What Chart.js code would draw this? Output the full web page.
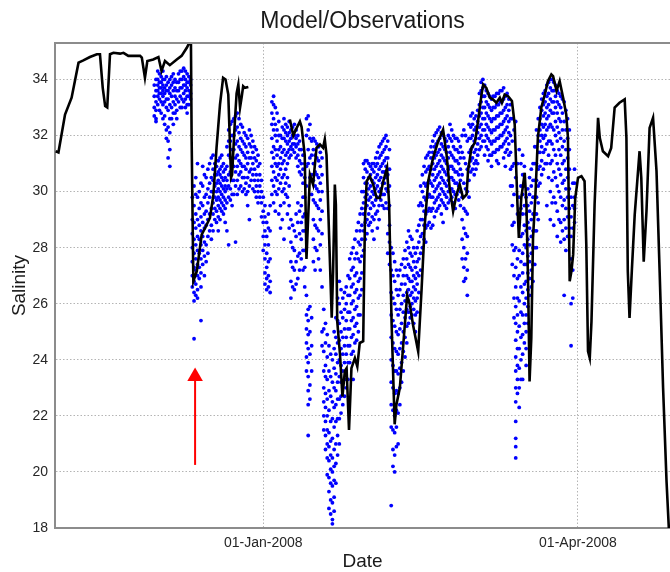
<!DOCTYPE html>
<html>
<head>
<meta charset="utf-8">
<title>Model/Observations</title>
<script src="https://cdn.jsdelivr.net/npm/chart.js@4.4.1/dist/chart.umd.min.js"></script>
<style>
  html, body { margin: 0; padding: 0; background: #fff; }
  #chart { display: block; }
</style>
</head>
<body>
<canvas id="chart" width="670" height="572"></canvas>
<script>
// x values are days counted from 01-Jan-2008
const modelDays = [
  -60.0, -59.2, -57.3, -55.4, -53.4, -52.0, -50.1, -48.1, -47.2, -46.4, -45.7, -45.1, -44.3, -43.3,
  -41.4, -40.4, -39.0, -35.6, -35.1, -34.2, -33.5, -31.8, -30.3, -29.4, -28.4, -27.0, -25.0, -23.6,
  -22.1, -21.2, -20.9, -20.7, -20.2, -19.2, -17.8, -16.8, -15.4, -14.4, -13.5, -12.5, -11.6, -10.9,
  -10.1, -9.3, -9.0, -8.2, -7.7, -7.2, -6.7, -6.2, -5.8, -5.3, -4.3,
  1.7,
  7.7, 8.7, 9.4, 10.6, 11.1, 12.0, 12.5, 13.5, 14.4, 15.4, 16.4, 17.3, 17.8, 18.3, 19.8, 20.2, 20.7,
  21.0, 21.4, 22.2, 22.9, 23.6, 24.1, 24.8, 25.5, 26.5, 27.2, 27.9, 28.9, 29.4, 29.9, 30.8, 31.8, 32.8,
  33.7, 34.7, 35.8, 36.4, 37.1, 38.0, 38.5, 39.5, 40.4, 41.6, 42.4, 43.3, 44.8, 45.8, 46.7, 47.7, 49.1,
  50.6, 52.0, 53.0, 53.9, 54.9, 55.9, 56.8, 57.8, 58.8, 59.2, 60.2, 61.2, 62.1, 63.1, 63.6, 64.5, 65.5,
  66.4, 67.4, 68.4, 69.0, 69.8, 70.8, 71.9, 72.7, 73.5, 73.9, 74.6, 75.6, 76.1, 76.6, 77.0, 77.5, 78.0,
  78.7, 79.4, 80.4, 81.4, 82.3, 83.3, 83.8, 84.8, 85.7, 86.7, 87.6, 88.1, 88.6, 89.1, 89.6, 90.2, 91.0,
  92.0, 92.9, 93.4, 93.9, 94.4, 94.9, 95.8, 96.8, 97.3, 98.2, 99.7, 100.6, 101.6, 103.0, 104.5, 105.0,
  105.4, 105.9, 106.6, 107.4, 108.8, 109.3, 110.0, 110.8, 111.7, 112.7, 113.7, 114.6, 115.6, 116.6,
  117.3, 117.8,
];
const modelSalinity = [
  31.44, 31.4, 32.75, 33.35, 34.6, 34.68, 34.8, 34.9, 34.9, 33.7, 33.05, 33.0, 34.9, 34.95,
  34.92, 34.95, 34.84, 34.84, 34.78, 34.06, 34.66, 34.71, 34.8, 34.3, 34.66, 34.51, 34.71, 34.84,
  35.13, 35.35, 35.35, 31.9, 26.8, 27.16, 28.46, 28.7, 29.06, 29.9, 31.56, 33.1, 34.06, 34.0,
  33.46, 30.5, 30.6, 32.5, 33.5, 33.82, 33.0, 33.4, 33.76, 33.7, 33.73,
  null,
  32.57, 32.0, 32.2, 32.5, 32.3, 31.3, 27.6, 30.6, 30.25, 31.56, 31.68, 31.56, 31.86, 31.3, 25.5, 27.16, 30.25,
  29.54, 25.37, 24.18, 22.69, 23.6, 23.7, 21.5, 23.7, 24.06, 23.76, 24.6, 24.66, 28.94, 30.37, 30.55, 30.25, 29.77,
  29.77, 30.37, 30.85, 29.54, 25.37, 21.7, 22.4, 23.0, 24.4, 26.3, 25.96, 25.25, 24.3, 26.56, 28.82, 30.37, 31.2,
  31.8, 32.21, 31.32, 30.13, 29.3, 29.9, 30.25, 29.77, 29.9, 30.73, 31.56, 31.74, 32.51, 33.46, 33.82, 33.7, 33.35,
  33.29, 33.17, 33.35, 33.17, 33.46, 33.4, 33.23, 32.4, 29.54, 28.35, 29.77, 30.67, 29.54, 26.56, 23.23, 24.77, 28.35,
  29.9, 31.92, 33.0, 33.46, 33.94, 34.18, 34.12, 33.59, 33.94, 33.35, 32.75, 31.92, 26.8, 27.16, 27.75, 29.77, 30.49,
  30.55, 30.37, 28.11, 24.3, 24.06, 25.37, 29.54, 32.63, 31.92, 31.44, 31.26, 31.56, 33.0, 33.17, 33.29, 31.92,
  27.16, 25.49, 27.27, 29.18, 31.44, 30.49, 27.5, 29.3, 32.27, 32.63, 30.73, 27.16, 23.0, 19.66,
  17.9, 17.4,
];

// observations, one column per day ...
const obsDays = [
  -31, -30, -29, -28, -27, -26, -25, -24, -23, -22, -21, -20, -19, -18, -17, -16, -15, -14, -13, -12,
  -11, -10, -9, -8, -7, -6, -5, -4, -3, -2, -1, 0, 1, 2, 3, 4, 5, 6, 7, 8, 9, 10, 11, 12, 13, 14, 15,
  16, 17, 18, 19, 20, 21, 22, 23, 24, 25, 26, 27, 28, 29, 30, 31, 32, 33, 34, 35, 36, 37, 38, 39, 40,
  41, 42, 43, 44, 45, 46, 47, 48, 49, 50, 51, 52, 53, 54, 55, 56, 57, 58, 59, 60, 61, 62, 63, 64, 65,
  66, 67, 68, 69, 70, 71, 72, 73, 74, 75, 76, 77, 78, 79, 80, 81, 82, 83, 84, 85, 86, 87, 88, 89, 90,
];
const obsSalinity = [
  [34.0, 33.6, 33.2, 32.9, 32.6, 32.5],
  [34.2, 33.9, 33.7, 33.5, 33.3, 32.9],
  [34.3, 34.0, 33.8, 33.6, 33.4, 33.1, 32.6],
  [34.1, 33.8, 33.6, 33.3, 33.0, 32.2, 31.9],
  [34.0, 33.7, 33.5, 33.1, 32.6, 32.1, 31.5, 30.9],
  [34.2, 33.9, 33.6, 33.2, 32.8, 32.4],
  [33.9, 33.6, 33.3, 32.9, 32.6],
  [34.3, 34.0, 33.7, 33.4, 33.0],
  [34.4, 34.1, 33.8, 33.5, 33.2],
  [34.2, 33.9, 33.7, 33.4, 33.1, 32.8],
  [34.0, 33.8, 33.5, 33.3],
  [30.2, 29.5, 28.9, 28.3, 27.8, 27.3, 26.8, 26.4, 26.1, 24.75],
  [31.0, 29.8, 29.0, 28.4, 27.9, 27.4, 27.0, 26.5, 26.2],
  [30.3, 29.6, 29.1, 28.6, 28.1, 27.6, 27.1, 26.6, 25.4],
  [30.6, 29.8, 29.2, 28.7, 28.2, 27.7, 27.0],
  [30.8, 30.1, 29.6, 29.0, 28.4, 27.8],
  [31.2, 30.5, 30.0, 29.4, 28.8, 28.3],
  [31.0, 30.6, 30.2, 29.8, 29.4, 29.0],
  [31.1, 30.7, 30.4, 30.1, 29.8, 29.5, 29.1, 28.6],
  [31.3, 30.9, 30.5, 30.2, 29.9, 29.6, 29.3],
  [30.8, 30.5, 30.2, 30.0, 29.7, 29.4, 28.9],
  [32.2, 31.8, 31.3, 30.6, 30.2, 29.8, 28.1],
  [32.5, 32.0, 31.5, 31.0, 30.4, 29.9, 29.5],
  [32.7, 32.2, 31.7, 31.2, 30.7, 30.2, 28.2],
  [32.6, 32.1, 31.6, 31.1, 30.6, 30.1],
  [32.3, 31.8, 31.4, 30.9, 30.5, 30.0],
  [32.0, 31.6, 31.2, 30.8, 30.3, 29.9],
  [32.2, 31.7, 31.2, 30.7, 30.2, 29.0],
  [31.8, 31.4, 31.0, 30.6, 30.1],
  [31.5, 31.1, 30.6, 30.2, 29.8],
  [31.0, 30.6, 30.2, 29.8],
  [29.8, 29.3, 28.9, 28.4, 27.9],
  [28.9, 28.4, 27.8, 27.3, 26.9, 26.5],
  [29.5, 28.6, 27.6, 26.8, 26.4],
  [33.4, 33.1, 32.6, 32.2, 31.6, 31.2, 30.7, 30.2, 29.6],
  [32.8, 32.2, 31.8, 31.3, 30.9, 30.4, 29.9],
  [32.0, 31.6, 31.2, 30.8, 30.3, 29.5, 28.7],
  [32.6, 32.2, 31.9, 31.5, 31.1, 30.6, 30.1, 29.6, 28.3],
  [32.3, 32.0, 31.7, 31.4, 31.0, 30.5, 29.8, 29.2],
  [32.2, 31.9, 31.6, 31.3, 29.0, 28.2, 27.5, 26.8, 26.2],
  [32.4, 32.0, 31.7, 31.4, 28.6, 27.9, 27.2, 26.5],
  [32.0, 31.7, 31.3, 30.9, 29.6, 28.9, 27.7, 26.9],
  [31.5, 31.0, 30.6, 29.5, 28.9, 28.3, 27.6],
  [31.0, 30.5, 29.8, 29.2, 28.6, 27.9, 27.3, 26.6],
  [32.7, 32.2, 31.5, 31.0, 25.8, 25.4, 24.9, 24.4, 23.9, 23.4, 22.9, 22.4, 21.3],
  [31.8, 31.3, 30.6, 29.9, 25.5, 24.5, 23.6],
  [31.8, 31.3, 30.7, 30.2, 29.6, 28.8, 28.0, 27.2],
  [31.6, 31.1, 30.5, 30.0, 29.4, 28.6, 27.6],
  [31.2, 30.6, 30.0, 29.3, 28.5, 26.6, 25.0, 24.5],
  [25.3, 24.6, 23.8, 23.4, 22.8, 22.3, 21.8, 21.3, 20.8],
  [24.5, 23.6, 22.9, 22.2, 21.4, 20.9, 20.4, 19.8, 19.3, 18.7],
  [24.0, 23.2, 22.5, 21.9, 21.2, 20.5, 20.0, 19.5, 18.9, 18.3, 18.15],
  [25.5, 24.8, 24.2, 23.5, 22.9, 22.4, 21.8, 21.0, 20.3, 19.6],
  [26.8, 26.0, 25.3, 24.7, 24.0, 23.4, 22.6, 21.9, 21.0],
  [26.2, 25.5, 24.8, 24.2, 23.6, 23.0, 22.4],
  [26.6, 26.0, 25.4, 24.8, 24.2, 23.6, 23.0],
  [27.6, 26.9, 26.3, 25.7, 25.1, 24.5, 23.9],
  [28.0, 27.3, 26.7, 26.1, 25.5, 24.9, 24.3, 23.3],
  [28.6, 27.8, 27.1, 26.5, 25.9, 25.3, 24.7],
  [29.2, 28.6, 28.1, 27.5, 26.9, 26.3, 25.6],
  [31.0, 30.5, 30.0, 29.6, 29.2, 28.6, 27.9],
  [31.1, 30.7, 30.3, 29.9, 29.5, 29.0, 28.5],
  [30.9, 30.6, 30.2, 29.8, 29.4, 28.9],
  [31.0, 30.7, 30.3, 29.9, 29.5, 29.0, 28.3],
  [31.4, 31.0, 30.6, 30.2, 29.8, 29.3, 28.7],
  [31.7, 31.3, 30.9, 30.5, 30.1, 29.7],
  [31.9, 31.5, 31.1, 30.7, 30.3, 29.9, 29.4],
  [31.8, 31.2, 30.6, 30.0, 29.4, 28.5, 27.8],
  [28.0, 27.2, 26.4, 25.6, 24.8, 24.0, 23.2, 22.4, 21.6, 18.8],
  [27.5, 26.8, 26.0, 25.2, 24.4, 23.6, 22.8, 22.0, 21.4, 20.6, 20.0],
  [27.0, 26.3, 25.6, 24.9, 24.2, 23.5, 22.8, 22.1, 21.0],
  [27.4, 26.7, 26.0, 25.3, 24.6, 23.9, 23.2],
  [27.9, 27.3, 26.7, 26.1, 25.5, 24.8, 24.1],
  [28.6, 28.0, 27.4, 26.9, 26.5, 26.1, 25.7, 25.3],
  [28.3, 27.7, 27.2, 26.8, 26.4, 26.0, 25.6],
  [27.8, 27.3, 26.9, 26.5, 26.1, 25.6, 25.0],
  [29.5, 28.8, 28.2, 27.6, 27.0, 26.4],
  [30.6, 30.0, 29.5, 29.0, 28.5, 28.0],
  [31.2, 30.7, 30.2, 29.7, 29.2, 28.7, 28.2],
  [31.4, 30.9, 30.4, 29.9, 29.4, 28.9],
  [31.8, 31.4, 31.0, 30.6, 30.2, 29.8, 29.4, 28.8],
  [32.1, 31.7, 31.3, 30.9, 30.5, 30.1, 29.7, 29.3],
  [32.3, 31.9, 31.5, 31.1, 30.7, 30.3, 29.9, 29.5],
  [32.0, 31.6, 31.2, 30.8, 30.4, 30.0, 29.6, 28.9],
  [31.8, 31.4, 31.0, 30.6, 30.2, 29.8, 29.4],
  [32.4, 31.9, 31.4, 30.9, 30.5, 30.1, 29.7],
  [32.0, 31.6, 31.2, 30.8, 30.4, 30.0, 29.6],
  [31.9, 31.5, 31.1, 30.7, 30.3, 29.9],
  [31.6, 31.2, 30.8, 30.4, 30.0, 29.5],
  [32.2, 31.2, 30.3, 29.4, 28.7, 28.0, 27.3, 26.8],
  [31.8, 30.8, 30.0, 29.2, 28.4, 27.8, 27.2, 26.3],
  [32.7, 32.3, 31.9, 31.5, 31.1, 30.7],
  [32.6, 32.2, 31.8, 31.4, 31.0, 30.6],
  [32.9, 32.5, 32.1, 31.7, 31.3, 31.0],
  [33.9, 33.6, 33.2, 32.8, 32.4, 32.0, 31.6],
  [33.8, 33.4, 33.0, 32.6, 32.2, 31.8, 31.3],
  [33.5, 33.1, 32.7, 32.3, 31.9, 31.5, 31.1],
  [33.3, 32.9, 32.5, 32.1, 31.7, 31.3, 30.9],
  [33.4, 33.0, 32.6, 32.2, 31.8, 31.4],
  [33.5, 33.1, 32.7, 32.3, 31.9, 31.5, 31.0],
  [33.6, 33.2, 32.8, 32.4, 32.0, 31.6],
  [33.4, 33.0, 32.6, 32.2, 31.8, 31.4, 30.9],
  [33.3, 32.9, 32.5, 32.1, 31.7, 31.3],
  [32.6, 31.8, 30.9, 30.2, 29.5, 28.8, 28.1, 27.4],
  [32.5, 30.5, 28.0, 27.3, 26.6, 25.9, 25.3, 24.7, 24.1, 23.6, 23.0, 22.5, 21.8, 21.2, 20.9, 20.5],
  [31.5, 29.8, 28.9, 27.9, 27.0, 26.1, 25.2, 24.4, 23.7, 23.0, 22.3],
  [31.3, 30.6, 29.9, 29.2, 28.5, 27.8, 27.1, 26.4, 25.6, 24.9, 24.2, 23.3],
  [29.8, 29.2, 28.6, 28.0, 27.4, 26.8, 26.2, 25.6, 25.0, 24.4, 23.8],
  [30.5, 29.9, 29.3, 28.7, 28.1, 27.5, 26.9, 26.3],
  [31.0, 30.4, 29.8, 29.2, 28.6, 28.0, 27.4, 26.8],
  [32.2, 31.6, 31.0, 30.4, 29.8, 29.2, 28.6, 28.0],
  [33.0, 32.6, 32.2, 31.8, 31.4, 30.9, 30.3],
  [33.5, 33.1, 32.7, 32.3, 31.9, 31.4, 30.8],
  [33.8, 33.4, 33.0, 32.6, 32.2, 31.7, 31.0, 29.5],
  [34.0, 33.7, 33.3, 32.9, 32.4, 31.8, 31.0, 30.0, 29.0],
  [33.9, 33.6, 33.2, 32.8, 32.2, 31.5, 30.7, 29.8, 28.8],
  [33.6, 33.2, 32.8, 32.3, 31.8, 31.0, 30.2, 29.3, 28.4],
  [33.4, 33.0, 32.5, 31.9, 31.3, 30.6, 29.8, 28.9, 28.2],
  [33.2, 32.5, 31.8, 31.1, 30.4, 29.7, 29.0, 28.3, 26.3],
  [32.6, 31.9, 31.2, 30.5, 29.8, 29.1, 28.4],
  [29.8, 29.1, 28.4, 27.6, 26.0, 24.5],
  [30.8, 30.3, 29.8, 29.4, 28.9],
];

// ... and one column in between each pair of days
const obsHalfDays = [
  -31.5, -30.5, -29.5, -28.5, -27.5, -26.5, -25.5, -24.5, -23.5, -22.5, -21.5, -20.5, -19.5, -18.5,
  -17.5, -16.5, -15.5, -14.5, -13.5, -12.5, -11.5, -10.5, -9.5, -8.5, -7.5, -6.5, -5.5, -4.5, -3.5,
  -2.5, -1.5, -0.5, 0.5, 1.5, 2.5, 3.5, 4.5, 5.5, 6.5, 7.5, 8.5, 9.5, 10.5, 11.5, 12.5, 13.5, 14.5,
  15.5, 16.5, 17.5, 18.5, 19.5, 20.5, 21.5, 22.5, 23.5, 24.5, 25.5, 26.5, 27.5, 28.5, 29.5, 30.5,
  31.5, 32.5, 33.5, 34.5, 35.5, 36.5, 37.5, 38.5, 39.5, 40.5, 41.5, 42.5, 43.5, 44.5, 45.5, 46.5,
  47.5, 48.5, 49.5, 50.5, 51.5, 52.5, 53.5, 54.5, 55.5, 56.5, 57.5, 58.5, 59.5, 60.5, 61.5, 62.5,
  63.5, 64.5, 65.5, 66.5, 67.5, 68.5, 69.5, 70.5, 71.5, 72.5, 73.5, 74.5, 75.5, 76.5, 77.5, 78.5,
  79.5, 80.5, 81.5, 82.5, 83.5, 84.5, 85.5, 86.5, 87.5, 88.5, 89.5,
];
const obsHalfSalinity = [
  [33.8, 33.4, 33.0, 32.7],
  [34.3, 34.0, 33.8, 33.6, 33.4, 33.1],
  [34.1, 33.9, 33.7, 33.5, 33.2, 32.8],
  [34.0, 33.7, 33.5, 33.2, 32.7, 32.4],
  [33.9, 33.6, 33.3, 32.9, 32.3, 31.8, 31.2],
  [34.1, 33.8, 33.4, 33.0, 32.6],
  [34.0, 33.7, 33.4, 33.1, 32.8],
  [34.2, 33.9, 33.6, 33.2],
  [34.3, 34.0, 33.7, 33.3, 33.0],
  [34.3, 34.0, 33.8, 33.6, 33.3, 33.0],
  [34.1, 33.9, 33.6, 33.4, 33.1],
  [29.8, 29.0, 28.5, 28.0, 27.5, 27.0, 26.6],
  [30.5, 29.9, 29.2, 28.7, 28.1, 27.6, 27.2, 26.7, 26.3],
  [30.0, 29.4, 28.8, 28.3, 27.8, 27.3, 26.9],
  [30.9, 30.2, 29.5, 28.9, 28.4, 27.9, 27.4],
  [30.5, 29.9, 29.3, 28.8, 28.1, 27.5],
  [31.0, 30.3, 29.8, 29.2, 28.6],
  [31.3, 30.8, 30.4, 30.0, 29.6, 29.2, 28.6],
  [30.9, 30.6, 30.3, 30.0, 29.7, 29.3, 28.9],
  [31.2, 30.8, 30.6, 30.3, 30.0, 29.7, 29.4, 29.0],
  [31.0, 30.7, 30.4, 30.1, 29.8, 29.5, 29.2],
  [31.6, 30.9, 30.4, 30.1, 29.6, 28.6],
  [32.4, 31.8, 31.2, 30.7, 30.1, 29.7],
  [32.6, 32.0, 31.5, 30.9, 30.4, 29.9],
  [32.8, 32.3, 31.8, 31.3, 30.9, 30.4, 29.9],
  [32.4, 31.9, 31.5, 31.0, 30.7, 30.2],
  [32.1, 31.7, 31.3, 30.9, 30.5, 30.1],
  [31.9, 31.4, 31.0, 30.5, 30.0, 29.5],
  [32.0, 31.6, 31.2, 30.8, 30.4],
  [31.6, 31.2, 30.8, 30.4, 30.0],
  [31.3, 30.9, 30.4, 30.0, 29.6],
  [30.4, 30.0, 29.6, 29.1],
  [29.5, 29.1, 28.6, 28.1, 27.6, 27.1, 26.7],
  [29.2, 28.7, 28.1, 27.5, 27.0, 26.6],
  [33.2, 32.8, 32.4, 31.9, 31.4, 30.9, 30.4, 29.9],
  [33.0, 32.4, 32.0, 31.5, 31.0, 30.5, 30.0, 29.3],
  [32.5, 32.0, 31.5, 31.0, 30.6, 30.1, 29.2],
  [32.3, 31.9, 31.4, 31.0, 30.5, 30.0, 29.0],
  [32.4, 32.1, 31.8, 31.3, 30.8, 30.3, 29.9],
  [32.5, 32.1, 31.8, 31.5, 31.2, 30.2, 29.5, 28.7],
  [32.3, 32.0, 31.7, 31.5, 28.8, 28.0, 27.3, 26.6],
  [32.2, 31.9, 31.6, 31.2, 29.2, 28.4, 27.5, 26.7],
  [31.8, 31.5, 31.1, 30.7, 29.3, 28.5, 27.8, 27.2],
  [31.3, 30.8, 30.3, 29.8, 29.1, 28.6, 27.9, 27.2],
  [32.6, 32.0, 30.9, 30.2, 26.3, 25.6, 25.1, 24.6, 24.1, 23.6],
  [32.4, 31.9, 31.2, 30.5, 25.9, 25.0, 24.2, 23.1, 22.6],
  [31.9, 31.5, 31.0, 30.4, 29.7, 29.0, 28.3, 27.5],
  [31.7, 31.2, 30.6, 30.1, 29.5, 28.7, 27.9],
  [31.4, 30.9, 30.3, 29.7, 29.0, 28.1, 27.2],
  [25.8, 25.1, 24.3, 23.6, 23.0, 22.5, 22.0, 21.5],
  [24.9, 24.1, 23.3, 22.6, 22.0, 21.5, 21.0, 20.5, 19.9],
  [24.2, 23.4, 22.7, 21.8, 21.1, 20.6, 20.1, 19.6, 19.0, 18.5],
  [25.0, 24.4, 23.7, 23.0, 22.3, 21.6, 20.8, 20.2, 19.7, 19.1, 18.6],
  [26.2, 25.4, 24.6, 23.9, 23.2, 22.6, 21.9, 21.3, 20.6],
  [26.5, 25.7, 25.0, 24.4, 23.8, 23.2, 22.7, 22.1],
  [26.4, 25.8, 25.1, 24.5, 23.9, 23.3, 22.7],
  [27.0, 26.3, 25.7, 25.1, 24.5, 23.9, 23.3],
  [27.8, 27.2, 26.6, 26.0, 25.4, 24.8, 24.2],
  [28.3, 27.6, 27.0, 26.4, 25.8, 25.2, 24.6],
  [28.9, 28.2, 27.6, 26.8, 26.2, 25.6, 25.0],
  [30.0, 29.4, 28.8, 28.3, 27.7, 27.1, 26.5],
  [31.1, 30.8, 30.3, 29.8, 29.4, 28.9, 28.3],
  [31.0, 30.5, 30.1, 29.7, 29.2, 28.8],
  [31.0, 30.8, 30.4, 30.0, 29.6, 29.1, 28.6],
  [31.2, 30.9, 30.5, 30.1, 29.7, 29.2],
  [31.6, 31.2, 30.8, 30.4, 30.0, 29.5, 29.0],
  [31.8, 31.4, 31.0, 30.7, 30.3, 29.9, 29.5],
  [32.0, 31.6, 31.2, 30.9, 30.5, 30.1, 29.6],
  [31.5, 30.8, 30.2, 29.5, 28.8, 28.2, 27.4],
  [27.8, 27.0, 26.2, 25.4, 24.6, 23.8, 23.0, 22.2, 21.5, 20.8, 20.2],
  [27.2, 26.5, 25.8, 25.0, 24.3, 23.6, 22.9, 22.2, 21.6, 20.9],
  [27.2, 26.5, 25.8, 25.1, 24.4, 23.7, 23.0, 22.4],
  [27.6, 27.0, 26.3, 25.7, 25.0, 24.3, 23.6],
  [28.2, 27.6, 27.0, 26.4, 25.8, 25.2, 24.6],
  [28.4, 27.8, 27.3, 26.8, 26.3, 25.9, 25.5],
  [28.0, 27.5, 27.0, 26.6, 26.2, 25.8, 25.3],
  [28.6, 28.0, 27.5, 27.1, 26.7, 26.2, 25.7],
  [30.2, 29.6, 29.0, 28.4, 27.8, 27.2],
  [30.9, 30.3, 29.8, 29.3, 28.8, 28.3],
  [31.3, 30.8, 30.3, 29.8, 29.3, 28.8],
  [31.6, 31.2, 30.8, 30.3, 29.8, 29.3, 28.7],
  [32.0, 31.6, 31.2, 30.8, 30.4, 30.0, 29.6, 29.1],
  [32.2, 31.8, 31.4, 31.0, 30.6, 30.2, 29.8, 29.4],
  [32.1, 31.7, 31.3, 30.9, 30.5, 30.1, 29.7, 29.2],
  [31.9, 31.5, 31.1, 30.7, 30.3, 29.9, 29.5],
  [32.0, 31.6, 31.2, 30.8, 30.4, 30.0, 29.6],
  [32.2, 31.8, 31.3, 30.9, 30.5, 30.1, 29.8],
  [31.9, 31.5, 31.1, 30.7, 30.3, 29.9, 29.4],
  [31.8, 31.4, 31.0, 30.6, 30.2, 29.7],
  [32.0, 31.4, 30.6, 29.8, 29.0, 28.3, 27.6],
  [32.0, 31.0, 30.1, 29.3, 28.5, 27.6, 26.9],
  [32.4, 31.9, 31.4, 30.9, 30.4, 29.8],
  [32.8, 32.4, 32.0, 31.6, 31.2, 30.8],
  [32.7, 32.3, 31.9, 31.5, 31.1, 30.8],
  [33.5, 33.1, 32.7, 32.3, 31.9, 31.5],
  [34.0, 33.7, 33.4, 33.0, 32.6, 32.2, 31.8],
  [33.6, 33.2, 32.8, 32.4, 32.0, 31.6],
  [33.4, 33.0, 32.6, 32.2, 31.8, 31.3],
  [33.4, 33.0, 32.6, 32.2, 31.8, 31.4],
  [33.5, 33.1, 32.7, 32.3, 31.9, 31.5, 31.1],
  [33.6, 33.2, 32.8, 32.4, 32.0, 31.6],
  [33.7, 33.3, 32.9, 32.5, 32.1, 31.7, 31.2],
  [33.5, 33.1, 32.7, 32.3, 31.9, 31.5],
  [33.1, 32.6, 32.0, 31.4, 30.8, 30.2],
  [32.2, 31.0, 29.9, 28.9, 27.9, 27.0, 26.2, 25.5],
  [31.0, 29.2, 27.6, 26.9, 26.2, 25.6, 25.0, 24.4, 23.8, 23.3, 22.8],
  [31.0, 30.2, 29.4, 28.4, 27.5, 26.6, 25.7, 24.8, 24.0, 23.3],
  [30.9, 30.2, 29.5, 28.8, 28.1, 27.4, 26.7, 26.0, 25.3, 24.6],
  [30.1, 29.5, 28.9, 28.3, 27.7, 27.1, 26.5, 25.9, 25.3],
  [30.8, 30.2, 29.6, 29.0, 28.4, 27.8, 27.2, 26.6],
  [31.6, 31.0, 30.4, 29.8, 29.2, 28.6, 28.0, 27.4],
  [32.6, 32.0, 31.4, 30.8, 30.2, 29.6, 29.0],
  [33.3, 32.9, 32.4, 32.0, 31.6, 31.1, 30.6],
  [33.6, 33.2, 32.8, 32.4, 32.0, 31.5, 31.0],
  [33.9, 33.5, 33.1, 32.7, 32.3, 31.8, 31.3, 30.5],
  [34.0, 33.6, 33.2, 32.8, 32.3, 31.7, 31.1, 30.4, 29.6],
  [33.8, 33.4, 33.0, 32.5, 32.0, 31.3, 30.5, 29.6],
  [33.5, 33.1, 32.6, 32.1, 31.5, 30.8, 30.0, 29.0],
  [33.3, 32.8, 32.2, 31.6, 31.0, 30.3, 29.5, 28.6],
  [32.9, 32.2, 31.5, 30.8, 30.1, 29.4, 28.7, 27.9],
  [32.2, 31.5, 30.8, 30.1, 29.4, 28.7],
  [30.3, 29.5, 28.7, 27.2, 26.2],
];

const yTicks = [18, 20, 22, 24, 26, 28, 30, 32, 34];
const xTicks = [0, 91];
const xTickLabels = ["01-Jan-2008", "01-Apr-2008"];

// red arrow pointing at the lowest early observation
const arrowDays = [-19.7, -19.7];
const arrowSalinity = [20.25, 23.4];

Chart.defaults.font.family = '"Liberation Sans", Arial, sans-serif';
Chart.defaults.color = "rgb(38, 38, 38)";

const modelPoints = modelDays.map((d, i) => ({ x: d, y: modelSalinity[i] }));
const obsPoints = [];
obsDays.forEach((d, i) => {
  obsSalinity[i].forEach((s) => obsPoints.push({ x: d, y: s }));
});
obsHalfDays.forEach((d, i) => {
  obsHalfSalinity[i].forEach((s) => obsPoints.push({ x: d, y: s }));
});
const arrowPoints = arrowDays.map((d, i) => ({ x: d, y: arrowSalinity[i] }));

const gridColor = "rgb(180, 180, 180)";
const frameColor = "rgb(140, 140, 140)";

// matlab draws a box; the top edge is not an axis here
const topFrame = {
  id: "topFrame",
  afterDatasetsDraw(chart) {
    const { ctx, chartArea } = chart;
    ctx.save();
    ctx.strokeStyle = frameColor;
    ctx.lineWidth = 2;
    ctx.beginPath();
    ctx.moveTo(chartArea.left, chartArea.top);
    ctx.lineTo(chartArea.right, chartArea.top);
    ctx.stroke();
    ctx.restore();
  },
};

new Chart(document.getElementById("chart"), {
  type: "scatter",
  data: {
    datasets: [
      {
        label: "arrow",
        data: arrowPoints,
        showLine: true,
        borderColor: "rgb(255, 0, 0)",
        backgroundColor: "rgb(255, 0, 0)",
        borderWidth: 2,
        pointStyle: "triangle",
        pointRadius: [0, 9],
        pointBorderWidth: 0,
      },
      {
        label: "Model",
        data: modelPoints,
        showLine: true,
        spanGaps: false,
        borderColor: "rgb(0, 0, 0)",
        borderWidth: 2.6,
        pointRadius: 0,
      },
      {
        label: "Observations",
        data: obsPoints,
        backgroundColor: "rgb(0, 0, 255)",
        borderColor: "rgb(0, 0, 255)",
        pointRadius: 1.9,
        pointBorderWidth: 0,
      },
    ],
  },
  options: {
    responsive: false,
    animation: false,
    devicePixelRatio: 1,
    events: [],
    layout: { padding: 0, autoPadding: false },
    plugins: {
      legend: { display: false },
      tooltip: { enabled: false },
      title: {
        display: true,
        fullSize: false,
        text: "Model/Observations",
        color: "rgb(26, 26, 26)",
        font: { size: 23, weight: "normal", lineHeight: 1.2 },
        padding: { top: 8, bottom: 7.4 },
      },
    },
    scales: {
      x: {
        type: "linear",
        min: -60.2,
        max: 117.6,
        afterBuildTicks: (scale) => {
          scale.ticks = xTicks.map((v) => ({ value: v }));
        },
        afterFit: (scale) => {
          scale.height = 44;
          scale.paddingLeft = 0;
          scale.paddingRight = 0;
        },
        ticks: {
          callback: (value, index) => xTickLabels[index],
          font: { size: 14 },
          padding: 7,
          maxRotation: 0,
          autoSkip: false,
        },
        grid: { color: gridColor, lineWidth: 1, drawTicks: false },
        border: { color: frameColor, width: 2, dash: [1.5, 2] },
        title: {
          display: true,
          text: "Date",
          color: "rgb(26, 26, 26)",
          font: { size: 19, lineHeight: 1.1 },
          padding: { top: 0, bottom: 0 },
        },
      },
      y: {
        type: "linear",
        min: 18,
        max: 35.3,
        afterBuildTicks: (scale) => {
          scale.ticks = yTicks.map((v) => ({ value: v }));
        },
        afterFit: (scale) => {
          scale.width = 55;
        },
        ticks: { font: { size: 14 }, padding: 7 },
        grid: { color: gridColor, lineWidth: 1, drawTicks: false },
        border: { color: frameColor, width: 2, dash: [1.5, 2] },
        title: {
          display: true,
          text: "Salinity",
          color: "rgb(26, 26, 26)",
          font: { size: 19, lineHeight: 1.2 },
          padding: { top: 8, bottom: 0 },
        },
      },
    },
  },
  plugins: [topFrame],
});
</script>
</body>
</html>
